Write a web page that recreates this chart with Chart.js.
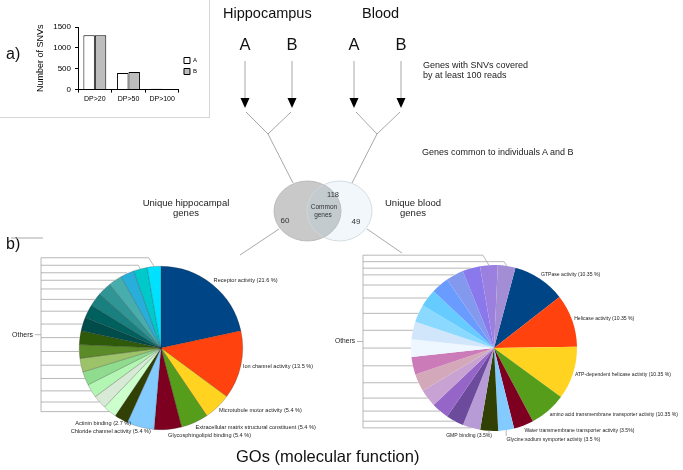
<!DOCTYPE html>
<html>
<head>
<meta charset="utf-8">
<script src="https://cdn.jsdelivr.net/npm/chart.js@4.4.1/dist/chart.umd.min.js"></script>
<style>
  html, body { margin: 0; padding: 0; background: #fff; }
  #page { position: relative; width: 683px; height: 470px; overflow: hidden; font-family: "Liberation Sans", Arial, sans-serif; }
  #barPanel { position: absolute; left: 0; top: 0; width: 210px; height: 118px; border-right: 1px solid #d6d6d6; border-bottom: 1px solid #d6d6d6; box-sizing: border-box; }
  canvas { position: absolute; }
  svg { position: absolute; left: 0; top: 0; pointer-events: none; }
  svg text { font-family: "Liberation Sans", Arial, sans-serif; }
</style>
</head>
<body>
<div id="page">
  <div id="barPanel"><canvas id="bars" width="209" height="117" style="left:0;top:0"></canvas></div>
  <canvas id="hippoPie" width="320" height="245" style="left:0;top:225px"></canvas>
  <canvas id="bloodPie" width="363" height="245" style="left:320px;top:225px"></canvas>
  <svg id="diagram" width="683" height="470"></svg>
</div>
<script>
// a) SNV counts per depth threshold
const depthCategories = ['DP>20', 'DP>50', 'DP>100']
const snvA = [1300, 395, 18]
const snvB = [1300, 420, 15]
const snvTicks = [0, 500, 1000, 1500]

// Venn: unique hippocampal, common, unique blood
const vennCounts = [60, 118, 49]

// b) GO terms, hippocampal genes (15 unlabelled "others" slices at the end)
const hippoLabels = [
  'Receptor activity (21.6 %)',
  'Ion channel activity (13.5 %)',
  'Microtubule motor activity (5.4 %)',
  'Extracellular matrix structural constituent (5.4 %)',
  'Glycosphingolipid binding (5.4 %)',
  'Chloride channel activity (5.4 %)',
  'Actinin binding (2.7 %)',
  '', '', '', '', '', '', '', '', '', '', '', '', '', '', '',
]
const hippoValues = [21.6, 13.5, 5.4, 5.4, 5.4, 5.4, 2.7,
  2.7, 2.7, 2.7, 2.7, 2.7, 2.7, 2.7, 2.7, 2.7, 2.7, 2.7, 2.7, 2.7, 2.7, 2.7]
const hippoColors = ['#004586', '#ff420e', '#ffd320', '#579d1c', '#7e0021', '#83caff', '#314004',
  '#ccffcc', '#d6ead6', '#b3f5b3', '#8fdc8f', '#9cc26a', '#5b8a28', '#2f5a0a',
  '#004c4a', '#00605e', '#1a7f7f', '#2f9595', '#47adad', '#27aedb', '#00c9cc', '#00e1ff']

// b) GO terms, blood genes
const bloodLabels = [
  'GTPase activity (10.35 %)',
  'Helicase activity (10.35 %)',
  'ATP-dependent helicase activity (10.35 %)',
  'amino acid transmembrane transporter activity (10.35 %)',
  'Water transmembrane transporter activity (3.5%)',
  'Glycine:sodium symporter activity (3.5 %)',
  'GMP binding (3.5%)',
  '', '', '', '', '', '', '', '', '', '', '', '', '', '', '',
]
const bloodValues = [10.35, 10.35, 10.35, 7.2, 3.9, 3.1, 3.5,
  3.45, 3.45, 3.45, 3.45, 3.45, 3.45, 3.45, 3.45, 3.45, 3.45, 3.45, 3.45, 3.45, 3.45, 3.45]
const bloodColors = ['#004586', '#ff420e', '#ffd320', '#579d1c', '#7e0021', '#83caff', '#314004',
  '#b79bd6', '#6c4a9c', '#9566c8', '#c8a2d2', '#d3a9b9', '#cb7bb8', '#eef6ff', '#d2e6fb',
  '#8cd9ff', '#66ccff', '#6a9cff', '#8399ee', '#8a79ec', '#9c80e0', '#a38ed6']

const FONT = '"Liberation Sans", Arial, sans-serif'
Chart.defaults.font.family = FONT
Chart.defaults.color = '#000'

// labels next to named slices + "Others" bracket for the small ones
const pieNotes = {
  id: 'pieNotes',
  afterDatasetsDraw(chart, args, opts) {
    const ctx = chart.ctx
    const meta = chart.getDatasetMeta(0)
    const labels = chart.data.labels
    ctx.save()
    ctx.font = opts.fontSize + 'px ' + FONT
    ctx.fillStyle = '#222'
    ctx.strokeStyle = '#a6a6a6'
    ctx.lineWidth = 0.8
    ctx.textBaseline = 'middle'
    let prevY = -Infinity
    const others = []
    meta.data.forEach((arc, i) => {
      const p = arc.getProps(['x', 'y', 'startAngle', 'endAngle', 'outerRadius'], true)
      const a = (p.startAngle + p.endAngle) / 2
      const ex = p.x + Math.cos(a) * p.outerRadius
      const ey = p.y + Math.sin(a) * p.outerRadius
      if (!labels[i]) {
        others.push({ x: ex, y: ey })
        return
      }
      let lx = p.x + Math.cos(a) * (p.outerRadius + 2)
      let ly = p.y + Math.sin(a) * (p.outerRadius + 5)
      if (Math.cos(a) >= 0) {
        if (Math.sin(a) > 0 && ly < prevY + opts.labelGap) ly = prevY + opts.labelGap
        prevY = ly
        ctx.textAlign = 'left'
      } else {
        lx += opts.rightShift
        ctx.textAlign = 'right'
      }
      if (opts.bottomTicks && Math.sin(a) > 0.97) {
        ctx.beginPath()
        ctx.moveTo(ex, ey)
        ctx.lineTo(ex, ly - 3)
        ctx.stroke()
      }
      ctx.fillText(labels[i], lx, ly)
    })

    // spread the leader lines of the small slices upward
    others.sort((u, v) => v.y - u.y)
    let prev = Infinity
    others.forEach(o => { o.ly = Math.min(o.y, prev - opts.gap); prev = o.ly })
    const bx = opts.bracketX
    others.forEach(o => {
      ctx.beginPath()
      ctx.moveTo(bx, o.ly)
      ctx.lineTo(o.x - 0.6 * (o.y - o.ly), o.ly)
      ctx.lineTo(o.x, o.y)
      ctx.stroke()
    })
    const top = others[others.length - 1].ly
    const bottom = others[0].ly
    ctx.beginPath()
    ctx.moveTo(bx, top)
    ctx.lineTo(bx, bottom)
    const midY = (top + bottom) / 2
    ctx.moveTo(bx - 6, midY)
    ctx.lineTo(bx, midY)
    ctx.stroke()
    ctx.font = opts.othersSize + 'px ' + FONT
    ctx.textAlign = 'right'
    ctx.fillText('Others', bx - 8, midY)
    ctx.restore()
  },
}

new Chart(document.getElementById('bars'), {
  type: 'bar',
  data: {
    labels: depthCategories,
    datasets: [
      { label: 'A', data: snvA, backgroundColor: '#ffffff', borderColor: '#000', borderWidth: 1 },
      { label: 'B', data: snvB, backgroundColor: '#bdbdbd', borderColor: '#000', borderWidth: 1 },
    ],
  },
  options: {
    responsive: false,
    animation: false,
    layout: { padding: { left: 35, top: 27, right: 2, bottom: 12 } },
    datasets: { bar: { categoryPercentage: 0.68, barPercentage: 1 } },
    plugins: {
      legend: {
        position: 'right',
        labels: { boxWidth: 6, boxHeight: 6, padding: 5, font: { size: 6 }, color: '#000' },
      },
      tooltip: { enabled: false },
    },
    scales: {
      x: {
        grid: { drawOnChartArea: false, color: '#000', tickLength: 3 },
        border: { color: '#000' },
        ticks: { font: { size: 7 }, color: '#000', padding: 2 },
      },
      y: {
        min: 0,
        max: 1500,
        afterBuildTicks: axis => { axis.ticks = snvTicks.map(v => ({ value: v })) },
        grid: { drawOnChartArea: false, color: '#000', tickLength: 3 },
        border: { color: '#000' },
        ticks: { font: { size: 8 }, color: '#000', padding: 4, callback: v => String(v) },
        title: { display: true, text: 'Number of SNVs', font: { size: 9 }, color: '#000', padding: { top: 0, bottom: 7 } },
      },
    },
  },
})

function makePie(id, labels, values, colors, rotation, padding, notes, border) {
  return new Chart(document.getElementById(id), {
    type: 'pie',
    data: {
      labels: labels,
      datasets: [{ data: values, backgroundColor: colors, borderColor: 'rgba(40,40,40,0.45)', borderWidth: border }],
    },
    options: {
      responsive: false,
      animation: false,
      rotation: rotation,
      layout: { padding: padding },
      plugins: { legend: { display: false }, tooltip: { enabled: false }, pieNotes: notes },
    },
    plugins: [pieNotes],
  })
}

makePie('hippoPie', hippoLabels, hippoValues, hippoColors, 0,
  { left: 79, right: 77, top: 41, bottom: 40 },
  { fontSize: 5.6, labelGap: 8, gap: 7.5, bracketX: 41, othersSize: 7, rightShift: 11, bottomTicks: false }, 0.5)

makePie('bloodPie', bloodLabels, bloodValues, bloodColors, 15,
  { left: 91, right: 106, top: 40, bottom: 39 },
  { fontSize: 5.1, labelGap: 9, gap: 6.5, bracketX: 43, othersSize: 6.7, rightShift: 3, bottomTicks: true }, 0)

// static diagram: depth arrows, Venn, captions
const svg = document.getElementById('diagram')
const NS = 'http://www.w3.org/2000/svg'
function el(tag, attrs, text) {
  const e = document.createElementNS(NS, tag)
  for (const k in attrs) e.setAttribute(k, attrs[k])
  if (text !== undefined) e.textContent = text
  svg.appendChild(e)
  return e
}
function txt(x, y, size, s, anchor, fill) {
  return el('text', { x: x, y: y, 'font-size': size, 'text-anchor': anchor || 'start', fill: fill || '#111' }, s)
}
const grey = { stroke: '#a8a8a8', 'stroke-width': 1, fill: 'none' }

txt(6, 59, 16, 'a)')
txt(6, 249, 16, 'b)')
txt(223, 18, 14.5, 'Hippocampus')
txt(362, 18, 14.5, 'Blood')
;[[245, 'A'], [292, 'B'], [354, 'A'], [401, 'B']].forEach(([x, s]) => {
  txt(x, 50, 16.5, s, 'middle')
  el('line', Object.assign({ x1: x, y1: 61, x2: x, y2: 99 }, grey))
  el('polygon', { points: `${x - 4.5},98 ${x + 4.5},98 ${x},108`, fill: '#000' })
})
el('polyline', Object.assign({ points: '246,112 268,134 291,112' }, grey))
el('line', Object.assign({ x1: 268, y1: 134, x2: 293, y2: 183 }, grey))
el('polyline', Object.assign({ points: '356,112 377,134 400,112' }, grey))
el('line', Object.assign({ x1: 377, y1: 134, x2: 352, y2: 183 }, grey))

txt(423, 68, 9, 'Genes with SNVs covered', 'start', '#222')
txt(423, 78, 9, 'by at least 100 reads', 'start', '#222')
txt(422, 155, 9, 'Genes common to individuals A and B', 'start', '#222')

// Venn
el('defs', {}).innerHTML = '<clipPath id="rightClip"><ellipse cx="339.5" cy="211" rx="32.5" ry="30"/></clipPath>'
el('ellipse', { cx: 307.5, cy: 211, rx: 33.5, ry: 30, fill: '#c9c9c9' })
el('ellipse', { cx: 339.5, cy: 211, rx: 32.5, ry: 30, fill: '#f1f7fb' })
el('ellipse', { cx: 307.5, cy: 211, rx: 33.5, ry: 30, fill: '#c4cbcf', 'clip-path': 'url(#rightClip)' })
el('ellipse', { cx: 307.5, cy: 211, rx: 33.5, ry: 30, fill: 'none', stroke: '#b4b4b4', 'stroke-width': 0.8 })
el('ellipse', { cx: 339.5, cy: 211, rx: 32.5, ry: 30, fill: 'none', stroke: '#cdd5da', 'stroke-width': 0.8 })
txt(285, 223, 8, String(vennCounts[0]), 'middle', '#333')
txt(333, 197, 7.5, String(vennCounts[1]), 'middle', '#333')
txt(356, 224, 8, String(vennCounts[2]), 'middle', '#333')
txt(324, 209, 6.5, 'Common', 'middle', '#333')
txt(323, 217, 6.5, 'genes', 'middle', '#333')

txt(186, 206, 9.5, 'Unique hippocampal', 'middle', '#222')
txt(186, 216, 9.5, 'genes', 'middle', '#222')
txt(413, 206, 9.5, 'Unique blood', 'middle', '#222')
txt(413, 216, 9.5, 'genes', 'middle', '#222')

el('line', Object.assign({ x1: 279, y1: 229, x2: 240, y2: 255 }, grey))
el('line', Object.assign({ x1: 367, y1: 229, x2: 402, y2: 253 }, grey))
el('line', Object.assign({ x1: 11, y1: 238, x2: 43, y2: 238 }, grey))

txt(236, 462, 16.5, 'GOs (molecular function)', 'start', '#111')
</script>
</body>
</html>
